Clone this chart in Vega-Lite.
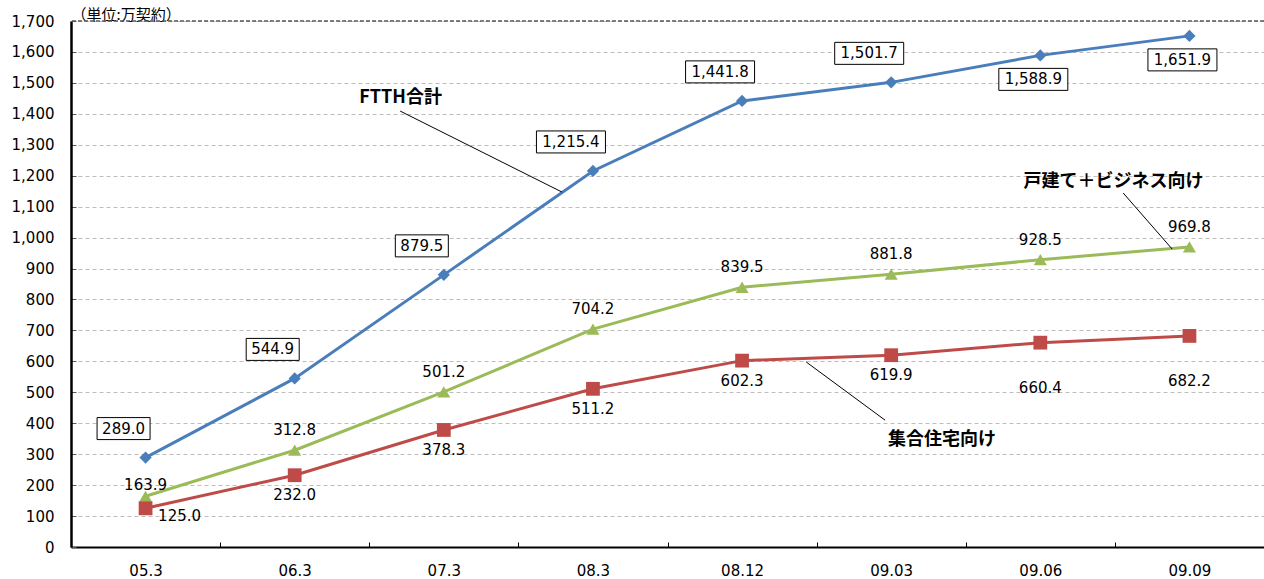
{
  "$schema": "https://vega.github.io/schema/vega-lite/v6.json",
  "width": 1193,
  "height": 526,
  "autosize": {"type": "none"},
  "padding": {"left": 71, "top": 21, "right": 0, "bottom": 32},
  "background": "white",
  "config": {"view": {"stroke": null}},
  "datasets": {
    "main": [
      {"period": "05.3", "series": "FTTH合計", "value": 289.0},
      {"period": "06.3", "series": "FTTH合計", "value": 544.9},
      {"period": "07.3", "series": "FTTH合計", "value": 879.5},
      {"period": "08.3", "series": "FTTH合計", "value": 1215.4},
      {"period": "08.12", "series": "FTTH合計", "value": 1441.8},
      {"period": "09.03", "series": "FTTH合計", "value": 1501.7},
      {"period": "09.06", "series": "FTTH合計", "value": 1588.9},
      {"period": "09.09", "series": "FTTH合計", "value": 1651.9},
      {"period": "05.3", "series": "戸建て＋ビジネス向け", "value": 163.9},
      {"period": "06.3", "series": "戸建て＋ビジネス向け", "value": 312.8},
      {"period": "07.3", "series": "戸建て＋ビジネス向け", "value": 501.2},
      {"period": "08.3", "series": "戸建て＋ビジネス向け", "value": 704.2},
      {"period": "08.12", "series": "戸建て＋ビジネス向け", "value": 839.5},
      {"period": "09.03", "series": "戸建て＋ビジネス向け", "value": 881.8},
      {"period": "09.06", "series": "戸建て＋ビジネス向け", "value": 928.5},
      {"period": "09.09", "series": "戸建て＋ビジネス向け", "value": 969.8},
      {"period": "05.3", "series": "集合住宅向け", "value": 125.0},
      {"period": "06.3", "series": "集合住宅向け", "value": 232.0},
      {"period": "07.3", "series": "集合住宅向け", "value": 378.3},
      {"period": "08.3", "series": "集合住宅向け", "value": 511.2},
      {"period": "08.12", "series": "集合住宅向け", "value": 602.3},
      {"period": "09.03", "series": "集合住宅向け", "value": 619.9},
      {"period": "09.06", "series": "集合住宅向け", "value": 660.4},
      {"period": "09.09", "series": "集合住宅向け", "value": 682.2}
    ],
    "notes": [
      {"label": "FTTH合計", "ax": 2.21, "ay": 1451},
      {"label": "戸建て＋ビジネス向け", "ax": 6.99, "ay": 1180},
      {"label": "集合住宅向け", "ax": 5.84, "ay": 346}
    ],
    "leaders": [
      {"x1": 2.207, "y1": 1409, "x2": 3.293, "y2": 1147},
      {"x1": 7.056, "y1": 1144, "x2": 7.384, "y2": 963},
      {"x1": 4.93, "y1": 598, "x2": 5.459, "y2": 410}
    ]
  },
  "layer": [
    {
      "data": {"name": "main"},
      "encoding": {
        "x": {
          "field": "period", "type": "ordinal", "sort": null,
          "scale": {"type": "band", "paddingInner": 0, "paddingOuter": 0},
          "axis": {"title": null, "labelAngle": 0, "tickBand": "extent", "tickSize": -5, "tickColor": "#000", "tickWidth": 1,
                   "domainColor": "#000", "domainWidth": 2, "labelFont": "DejaVu Sans", "labelFontSize": 15,
                   "labelColor": "#000", "labelPadding": 21, "grid": false}
        },
        "y": {
          "field": "value", "type": "quantitative",
          "scale": {"domain": [0, 1700], "nice": false, "zero": true},
          "axis": {"title": "（単位:万契約）", "values": [0,100,200,300,400,500,600,700,800,900,1000,1100,1200,1300,1400,1500,1600,1700],
                   "labelOverlap": false, "format": ",d", "grid": true, "gridColor": "#BDBDBD", "gridDash": [4, 3], "gridWidth": 1,
                   "ticks": true, "tickSize": -5, "tickColor": "#595959", "tickWidth": 1,
                   "domainColor": "#000", "domainWidth": 2.5,
                   "labelFont": "DejaVu Sans", "labelFontSize": 15, "labelColor": "#000", "labelPadding": 22,
                   "titleAngle": 0, "titleAlign": "left", "titleBaseline": "alphabetic",
                   "titleX": 0, "titleY": -2, "titleFont": "Noto Sans CJK JP", "titleFontSize": 15,
                   "titleFontWeight": "normal", "titleColor": "#000"}
        },
        "color": {
          "field": "series", "type": "nominal",
          "scale": {"domain": ["FTTH合計", "戸建て＋ビジネス向け", "集合住宅向け"], "range": ["#4A7EBB", "#9BBB59", "#BE4B48"]},
          "legend": null
        }
      },
      "layer": [
        {"mark": {"type": "line", "strokeWidth": 3}},
        {
          "mark": {"type": "point", "filled": true, "opacity": 1},
          "encoding": {
            "shape": {"field": "series", "type": "nominal",
                      "scale": {"domain": ["FTTH合計", "戸建て＋ビジネス向け", "集合住宅向け"], "range": ["diamond", "triangle-up", "square"]},
                      "legend": null},
            "size": {"field": "series", "type": "ordinal",
                     "scale": {"domain": ["FTTH合計", "戸建て＋ビジネス向け", "集合住宅向け"], "range": [150, 190, 190]},
                     "legend": null}
          }
        },
        {
          "transform": [{"filter": {"and": [{"field": "series", "equal": "FTTH合計"}, {"field": "period", "oneOf": ["05.3", "06.3", "07.3"]}]}}],
          "mark": {"type": "point", "shape": "M-0.97,-0.8H0.09V-0.36H-0.97Z", "size": 10000, "filled": true, "strokeWidth": 1, "opacity": 1},
          "encoding": {"color": {"value": "#000"}, "fill": {"value": "white"}, "stroke": {"value": "#000"}}
        },
        {
          "transform": [{"filter": {"and": [{"field": "series", "equal": "FTTH合計"}, {"field": "period", "oneOf": ["08.3", "08.12", "09.03"]}]}}],
          "mark": {"type": "point", "shape": "M-1.13,-0.8H0.25V-0.36H-1.13Z", "size": 10000, "filled": true, "strokeWidth": 1, "opacity": 1},
          "encoding": {"color": {"value": "#000"}, "fill": {"value": "white"}, "stroke": {"value": "#000"}}
        },
        {
          "transform": [{"filter": {"and": [{"field": "series", "equal": "FTTH合計"}, {"field": "period", "oneOf": ["09.06", "09.09"]}]}}],
          "mark": {"type": "point", "shape": "M-0.83,0.26H0.55V0.7H-0.83Z", "size": 10000, "filled": true, "strokeWidth": 1, "opacity": 1},
          "encoding": {"color": {"value": "#000"}, "fill": {"value": "white"}, "stroke": {"value": "#000"}}
        },
        {
          "transform": [{"filter": {"and": [{"field": "series", "equal": "FTTH合計"}, {"field": "period", "oneOf": ["05.3", "06.3", "07.3", "08.3", "08.12", "09.03"]}]}}],
          "mark": {"type": "text", "dx": -22, "dy": -29, "baseline": "middle", "align": "center", "font": "DejaVu Sans", "fontSize": 15},
          "encoding": {"text": {"field": "value", "type": "quantitative", "format": ",.1f"}, "color": {"value": "#000"}}
        },
        {
          "transform": [{"filter": {"and": [{"field": "series", "equal": "FTTH合計"}, {"field": "period", "oneOf": ["09.06", "09.09"]}]}}],
          "mark": {"type": "text", "dx": -7, "dy": 24, "baseline": "middle", "align": "center", "font": "DejaVu Sans", "fontSize": 15},
          "encoding": {"text": {"field": "value", "type": "quantitative", "format": ",.1f"}, "color": {"value": "#000"}}
        },
        {
          "transform": [{"filter": {"and": [{"field": "series", "equal": "戸建て＋ビジネス向け"}, {"not": {"field": "period", "equal": "05.3"}}]}}],
          "mark": {"type": "text", "dy": -20, "baseline": "middle", "align": "center", "font": "DejaVu Sans", "fontSize": 15},
          "encoding": {"text": {"field": "value", "type": "quantitative", "format": ",.1f"}, "color": {"value": "#000"}}
        },
        {
          "transform": [{"filter": {"and": [{"field": "series", "equal": "戸建て＋ビジネス向け"}, {"field": "period", "equal": "05.3"}]}}],
          "mark": {"type": "text", "dy": -11, "baseline": "middle", "align": "center", "font": "DejaVu Sans", "fontSize": 15},
          "encoding": {"text": {"field": "value", "type": "quantitative", "format": ",.1f"}, "color": {"value": "#000"}}
        },
        {
          "transform": [{"filter": {"and": [{"field": "series", "equal": "集合住宅向け"}, {"field": "period", "oneOf": ["05.3"]}]}}],
          "mark": {"type": "text", "dx": 34, "dy": 8, "baseline": "middle", "align": "center", "font": "DejaVu Sans", "fontSize": 15},
          "encoding": {"text": {"field": "value", "type": "quantitative", "format": ",.1f"}, "color": {"value": "#000"}}
        },
        {
          "transform": [{"filter": {"and": [{"field": "series", "equal": "集合住宅向け"}, {"field": "period", "oneOf": ["06.3", "07.3", "08.3", "08.12", "09.03"]}]}}],
          "mark": {"type": "text", "dy": 20, "baseline": "middle", "align": "center", "font": "DejaVu Sans", "fontSize": 15},
          "encoding": {"text": {"field": "value", "type": "quantitative", "format": ",.1f"}, "color": {"value": "#000"}}
        },
        {
          "transform": [{"filter": {"and": [{"field": "series", "equal": "集合住宅向け"}, {"field": "period", "oneOf": ["09.06", "09.09"]}]}}],
          "mark": {"type": "text", "dy": 45, "baseline": "middle", "align": "center", "font": "DejaVu Sans", "fontSize": 15},
          "encoding": {"text": {"field": "value", "type": "quantitative", "format": ",.1f"}, "color": {"value": "#000"}}
        }
      ]
    },
    {
      "layer": [
        {
          "data": {"values": [{"top": 1700}]},
          "mark": {"type": "rule", "color": "#595959", "strokeDash": [4, 2], "strokeWidth": 1.5},
          "encoding": {"y": {"field": "top", "type": "quantitative", "axis": null}}
        },
        {
          "data": {"name": "leaders"},
          "mark": {"type": "rule", "color": "#000", "strokeWidth": 1},
          "encoding": {
            "x": {"field": "x1", "type": "quantitative", "scale": {"domain": [0, 8], "nice": false, "zero": false}, "axis": null},
            "x2": {"field": "x2"},
            "y": {"field": "y1", "type": "quantitative", "axis": null},
            "y2": {"field": "y2"}
          }
        },
        {
          "data": {"name": "notes"},
          "mark": {"type": "text", "font": "Noto Sans CJK JP", "fontWeight": "bold", "fontSize": 18, "align": "center", "baseline": "middle", "color": "#000"},
          "encoding": {
            "x": {"field": "ax", "type": "quantitative", "axis": null},
            "y": {"field": "ay", "type": "quantitative", "axis": null},
            "text": {"field": "label", "type": "nominal"}
          }
        }
      ]
    }
  ],
  "resolve": {"scale": {"x": "independent"}, "axis": {"y": "independent"}}
}
